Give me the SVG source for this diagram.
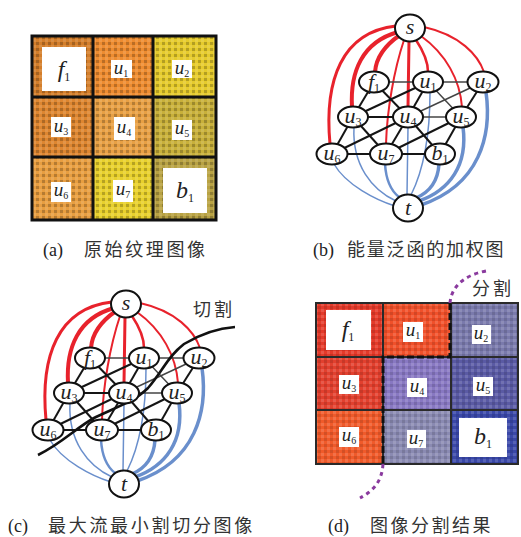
<svg xmlns="http://www.w3.org/2000/svg" width="521" height="537" viewBox="0 0 521 537">
<defs>
<pattern id="tex" width="6" height="6" patternUnits="userSpaceOnUse">
<rect x="0" y="0" width="3" height="3" fill="#000" fill-opacity="0.22"/>
<rect x="3" y="3" width="3" height="3" fill="#fff" fill-opacity="0.12"/>
</pattern>
<pattern id="tex2" width="6" height="6" patternUnits="userSpaceOnUse">
<rect x="0" y="0" width="3" height="3" fill="#000" fill-opacity="0.12"/>
<rect x="3" y="3" width="3" height="3" fill="#fff" fill-opacity="0.14"/>
</pattern>
<style>
.lbl{font-family:"Liberation Serif",serif;font-style:italic;font-size:22px;fill:#222;text-anchor:middle}
.sub{font-style:normal;font-size:12px}
.cap{font-family:"Liberation Serif",serif;font-size:18px;fill:#222}
.cjk{font-family:"Noto Sans CJK SC",sans-serif;font-size:18px;fill:#333}
.node{fill:#fff;stroke:#111;stroke-width:2}
.red{fill:none;stroke:#e8222c;stroke-linecap:round}
.blue{fill:none;stroke:#6a8fcc;stroke-linecap:round}
.nl{stroke:#151515;stroke-width:2}
.nlg{stroke:#444;stroke-width:1.5}
.wb{fill:#fff}
</style>
</defs>
<rect width="521" height="537" fill="#fff"/>

<!-- Panel (a) -->
<g id="panel-a">
<g id="a-cells">
<rect x="32" y="36" width="61" height="61" fill="#d47e2a"/>
<rect x="93" y="36" width="60" height="61" fill="#ee8c30"/>
<rect x="153" y="36" width="63" height="61" fill="#e6cb2c"/>
<rect x="32" y="97" width="61" height="60" fill="#de8630"/>
<rect x="93" y="97" width="60" height="60" fill="#e8a044"/>
<rect x="153" y="97" width="63" height="60" fill="#c8b03a"/>
<rect x="32" y="157" width="61" height="63" fill="#e89e40"/>
<rect x="93" y="157" width="60" height="63" fill="#e8d02c"/>
<rect x="153" y="157" width="63" height="63" fill="#b8a242"/>
<rect x="32" y="36" width="184" height="184" fill="url(#tex)"/>
</g>
<g id="a-grid" fill="none" stroke="#111" stroke-width="3">
<rect x="32" y="36" width="184" height="184"/>
<line x1="93" y1="36" x2="93" y2="220"/>
<line x1="153" y1="36" x2="153" y2="220"/>
<line x1="32" y1="97" x2="216" y2="97"/>
<line x1="32" y1="157" x2="216" y2="157"/>
</g>
<g id="a-f1"><rect class="wb" x="42" y="47" width="44" height="44"/><text class="lbl" x="64" y="77" style="font-size:24px">f<tspan class="sub" dy="4">1</tspan></text></g>
<g id="a-u1"><rect class="wb" x="111" y="60" width="21" height="18"/><text class="lbl" x="121" y="74" style="font-size:19px">u<tspan class="sub" style="font-size:10px" dy="3">1</tspan></text></g>
<g id="a-u2"><rect class="wb" x="172" y="60" width="20" height="18"/><text class="lbl" x="182" y="74" style="font-size:19px">u<tspan class="sub" style="font-size:10px" dy="3">2</tspan></text></g>
<g id="a-u3"><rect class="wb" x="51" y="117" width="20" height="20"/><text class="lbl" x="61" y="132" style="font-size:19px">u<tspan class="sub" style="font-size:10px" dy="3">3</tspan></text></g>
<g id="a-u4"><rect class="wb" x="114" y="117" width="21" height="23"/><text class="lbl" x="124" y="133" style="font-size:19px">u<tspan class="sub" style="font-size:10px" dy="3">4</tspan></text></g>
<g id="a-u5"><rect class="wb" x="172" y="120" width="20" height="20"/><text class="lbl" x="182" y="134" style="font-size:19px">u<tspan class="sub" style="font-size:10px" dy="3">5</tspan></text></g>
<g id="a-u6"><rect class="wb" x="51" y="182" width="20" height="20"/><text class="lbl" x="61" y="196" style="font-size:19px">u<tspan class="sub" style="font-size:10px" dy="3">6</tspan></text></g>
<g id="a-u7"><rect class="wb" x="113" y="180" width="20" height="22"/><text class="lbl" x="123" y="195" style="font-size:19px">u<tspan class="sub" style="font-size:10px" dy="3">7</tspan></text></g>
<g id="a-b1"><rect class="wb" x="163" y="168" width="44" height="45"/><text class="lbl" x="185" y="198" style="font-size:24px">b<tspan class="sub" dy="4">1</tspan></text></g>
</g>
<text class="cap" x="43" y="256">(a)</text>
<text class="cjk" x="84" y="256" letter-spacing="2.6">原始纹理图像</text>

<!-- Panel (b) -->
<g id="panel-b">
<g id="b-connectors">
<g id="b-red">
<path class="red" stroke-width="3" d="M396,26 C342,32 324,80 330,144"/>
<path class="red" stroke-width="4" d="M398,32 C362,42 350,72 352,107"/>
<path class="red" stroke-width="4" d="M400,35 C384,46 376,58 375,72"/>
<path class="red" stroke-width="2" d="M404,40 C394,70 387,110 386,144"/>
<path class="red" stroke-width="3" d="M409,41 L408,107"/>
<path class="red" stroke-width="2.5" d="M416,40 C424,52 428,62 428,72"/>
<path class="red" stroke-width="2" d="M421,36 C446,54 460,80 462,107"/>
<path class="red" stroke-width="2" d="M424,27 C460,35 478,55 484,72"/>
</g>
<g id="b-blue">
<path class="blue" stroke-width="1.5" d="M334,164 C346,185 376,200 395,206"/>
<path class="blue" stroke-width="1.5" d="M354,127 C352,165 372,190 396,201"/>
<path class="blue" stroke-width="2.5" d="M385,164 C386,180 390,190 399,197"/>
<path class="blue" stroke-width="1.5" d="M408,127 L407,195"/>
<path class="blue" stroke-width="1.5" d="M430,92 C430,130 426,165 411,195"/>
<path class="blue" stroke-width="3.5" d="M439,164 C438,180 430,192 416,198"/>
<path class="blue" stroke-width="3.5" d="M463,127 C468,165 450,190 419,201"/>
<path class="blue" stroke-width="3.5" d="M486,92 C492,135 480,185 421,205"/>
</g>
<g id="b-nlinks">
<line class="nlg" x1="374" y1="82" x2="428" y2="82"/>
<line class="nlg" x1="428" y1="82" x2="483" y2="82"/>
<line class="nl" x1="374" y1="82" x2="353" y2="117"/>
<line class="nl" x1="374" y1="82" x2="408" y2="117"/>
<line class="nl" x1="428" y1="82" x2="353" y2="117"/>
<line class="nl" x1="428" y1="82" x2="408" y2="117"/>
<line class="nlg" x1="428" y1="82" x2="461" y2="117"/>
<line class="nl" x1="483" y1="82" x2="461" y2="117"/>
<line class="nlg" stroke-width="1.2" x1="483" y1="82" x2="408" y2="117"/>
<line class="nl" stroke-width="2.5" x1="353" y1="117" x2="408" y2="117"/>
<line class="nlg" x1="408" y1="117" x2="461" y2="117"/>
<line class="nl" x1="353" y1="117" x2="332" y2="154"/>
<line class="nl" stroke-width="1.6" x1="353" y1="117" x2="386" y2="154"/>
<line class="nl" stroke-width="1.6" x1="408" y1="117" x2="386" y2="154"/>
<line class="nl" x1="408" y1="117" x2="440" y2="154"/>
<line class="nl" x1="461" y1="117" x2="440" y2="154"/>
<line class="nl" x1="461" y1="117" x2="386" y2="154"/>
<line class="nl" x1="408" y1="117" x2="332" y2="154"/>
<line class="nl" x1="332" y1="154" x2="386" y2="154"/>
<line class="nl" x1="386" y1="154" x2="440" y2="154"/>
</g>
</g>
<g id="b-s"><ellipse class="node" cx="410" cy="28" rx="15" ry="13.5"/><text class="lbl" x="410" y="34">s</text></g>
<g id="b-f1"><ellipse class="node" cx="374" cy="82" rx="15" ry="10.5"/><text class="lbl" x="374" y="89">f<tspan class="sub" dy="3">1</tspan></text></g>
<g id="b-u1"><ellipse class="node" cx="428" cy="82" rx="15" ry="10.5"/><text class="lbl" x="428" y="88">u<tspan class="sub" dy="3">1</tspan></text></g>
<g id="b-u2"><ellipse class="node" cx="483" cy="82" rx="15.5" ry="10.5"/><text class="lbl" x="483" y="88">u<tspan class="sub" dy="3">2</tspan></text></g>
<g id="b-u3"><ellipse class="node" cx="353" cy="117" rx="15" ry="10.5"/><text class="lbl" x="353" y="123">u<tspan class="sub" dy="3">3</tspan></text></g>
<g id="b-u4"><ellipse class="node" cx="408" cy="117" rx="15" ry="10.5"/><text class="lbl" x="408" y="123">u<tspan class="sub" dy="3">4</tspan></text></g>
<g id="b-u5"><ellipse class="node" cx="461" cy="117" rx="15" ry="10.5"/><text class="lbl" x="461" y="123">u<tspan class="sub" dy="3">5</tspan></text></g>
<g id="b-u6"><ellipse class="node" cx="332" cy="154" rx="15.5" ry="10.5"/><text class="lbl" x="332" y="160">u<tspan class="sub" dy="3">6</tspan></text></g>
<g id="b-u7"><ellipse class="node" cx="386" cy="154" rx="16" ry="10.5"/><text class="lbl" x="386" y="160">u<tspan class="sub" dy="3">7</tspan></text></g>
<g id="b-b1"><ellipse class="node" cx="440" cy="154" rx="15" ry="10.5"/><text class="lbl" x="440" y="160">b<tspan class="sub" dy="3">1</tspan></text></g>
<g id="b-t"><ellipse class="node" cx="408" cy="208" rx="15" ry="13.5"/><text class="lbl" x="408" y="215">t</text></g>
</g>
<text class="cap" x="313" y="256">(b)</text>
<text class="cjk" x="347" y="256" letter-spacing="1.8">能量泛函的加权图</text>

<!-- Panel (c) -->
<g id="panel-c" transform="translate(-284,276)">
<g id="c-connectors">
<g id="c-red">
<path class="red" stroke-width="3" d="M396,26 C342,32 324,80 330,144"/>
<path class="red" stroke-width="4" d="M398,32 C362,42 350,72 352,107"/>
<path class="red" stroke-width="4" d="M400,35 C384,46 376,58 375,72"/>
<path class="red" stroke-width="2" d="M404,40 C394,70 387,110 386,144"/>
<path class="red" stroke-width="3" d="M409,41 L408,107"/>
<path class="red" stroke-width="2.5" d="M416,40 C424,52 428,62 428,72"/>
<path class="red" stroke-width="2" d="M421,36 C446,54 460,80 462,107"/>
<path class="red" stroke-width="2" d="M424,27 C460,35 478,55 484,72"/>
</g>
<g id="c-blue">
<path class="blue" stroke-width="1.5" d="M334,164 C346,185 376,200 395,206"/>
<path class="blue" stroke-width="1.5" d="M354,127 C352,165 372,190 396,201"/>
<path class="blue" stroke-width="2.5" d="M385,164 C386,180 390,190 399,197"/>
<path class="blue" stroke-width="1.5" d="M408,127 L407,195"/>
<path class="blue" stroke-width="1.5" d="M430,92 C430,130 426,165 411,195"/>
<path class="blue" stroke-width="3.5" d="M439,164 C438,180 430,192 416,198"/>
<path class="blue" stroke-width="3.5" d="M463,127 C468,165 450,190 419,201"/>
<path class="blue" stroke-width="3.5" d="M486,92 C492,135 480,185 421,205"/>
</g>
<g id="c-nlinks">
<line class="nlg" x1="374" y1="82" x2="428" y2="82"/>
<line class="nlg" x1="428" y1="82" x2="483" y2="82"/>
<line class="nl" x1="374" y1="82" x2="353" y2="117"/>
<line class="nl" x1="374" y1="82" x2="408" y2="117"/>
<line class="nl" x1="428" y1="82" x2="353" y2="117"/>
<line class="nl" x1="428" y1="82" x2="408" y2="117"/>
<line class="nlg" x1="428" y1="82" x2="461" y2="117"/>
<line class="nl" x1="483" y1="82" x2="461" y2="117"/>
<line class="nlg" stroke-width="1.2" x1="483" y1="82" x2="408" y2="117"/>
<line class="nl" stroke-width="2.5" x1="353" y1="117" x2="408" y2="117"/>
<line class="nlg" x1="408" y1="117" x2="461" y2="117"/>
<line class="nl" x1="353" y1="117" x2="332" y2="154"/>
<line class="nl" stroke-width="1.6" x1="353" y1="117" x2="386" y2="154"/>
<line class="nl" stroke-width="1.6" x1="408" y1="117" x2="386" y2="154"/>
<line class="nl" x1="408" y1="117" x2="440" y2="154"/>
<line class="nl" x1="461" y1="117" x2="440" y2="154"/>
<line class="nl" x1="461" y1="117" x2="386" y2="154"/>
<line class="nl" x1="408" y1="117" x2="332" y2="154"/>
<line class="nl" x1="332" y1="154" x2="386" y2="154"/>
<line class="nl" x1="386" y1="154" x2="440" y2="154"/>
</g>
<path id="c-cut" fill="none" stroke="#111" stroke-width="2.6" d="M322,179 C345,168 360,152 378,142 C398,132 418,126 432,112 C446,96 452,80 468,68 C488,56 505,52 519,51"/>
</g>
<g id="c-s"><ellipse class="node" cx="410" cy="28" rx="15" ry="13.5"/><text class="lbl" x="410" y="34">s</text></g>
<g id="c-f1"><ellipse class="node" cx="374" cy="82" rx="15" ry="10.5"/><text class="lbl" x="374" y="89">f<tspan class="sub" dy="3">1</tspan></text></g>
<g id="c-u1"><ellipse class="node" cx="428" cy="82" rx="15" ry="10.5"/><text class="lbl" x="428" y="88">u<tspan class="sub" dy="3">1</tspan></text></g>
<g id="c-u2"><ellipse class="node" cx="483" cy="82" rx="15.5" ry="10.5"/><text class="lbl" x="483" y="88">u<tspan class="sub" dy="3">2</tspan></text></g>
<g id="c-u3"><ellipse class="node" cx="353" cy="117" rx="15" ry="10.5"/><text class="lbl" x="353" y="123">u<tspan class="sub" dy="3">3</tspan></text></g>
<g id="c-u4"><ellipse class="node" cx="408" cy="117" rx="15" ry="10.5"/><text class="lbl" x="408" y="123">u<tspan class="sub" dy="3">4</tspan></text></g>
<g id="c-u5"><ellipse class="node" cx="461" cy="117" rx="15" ry="10.5"/><text class="lbl" x="461" y="123">u<tspan class="sub" dy="3">5</tspan></text></g>
<g id="c-u6"><ellipse class="node" cx="332" cy="154" rx="15.5" ry="10.5"/><text class="lbl" x="332" y="160">u<tspan class="sub" dy="3">6</tspan></text></g>
<g id="c-u7"><ellipse class="node" cx="386" cy="154" rx="16" ry="10.5"/><text class="lbl" x="386" y="160">u<tspan class="sub" dy="3">7</tspan></text></g>
<g id="c-b1"><ellipse class="node" cx="440" cy="154" rx="15" ry="10.5"/><text class="lbl" x="440" y="160">b<tspan class="sub" dy="3">1</tspan></text></g>
<g id="c-t"><ellipse class="node" cx="408" cy="208" rx="15" ry="13.5"/><text class="lbl" x="408" y="215">t</text></g>
</g>
<text class="cjk" x="193" y="316" letter-spacing="3">切割</text>
<text class="cap" x="8" y="532">(c)</text>
<text class="cjk" x="48" y="532" letter-spacing="2.7">最大流最小割切分图像</text>

<!-- Panel (d) -->
<g id="panel-d">
<g id="d-cells">
<rect x="316" y="303" width="67" height="54" fill="#e43a2a"/>
<rect x="383" y="303" width="68" height="54" fill="#f0502a"/>
<rect x="451" y="303" width="67" height="54" fill="#7a7aac"/>
<rect x="316" y="357" width="67" height="53" fill="#e2402e"/>
<rect x="383" y="357" width="68" height="53" fill="#8878c2"/>
<rect x="451" y="357" width="67" height="53" fill="#5a5aa4"/>
<rect x="316" y="410" width="67" height="54" fill="#f05a2a"/>
<rect x="383" y="410" width="68" height="54" fill="#8a8ab2"/>
<rect x="451" y="410" width="67" height="54" fill="#3a48a8"/>
<rect x="316" y="303" width="202" height="161" fill="url(#tex2)"/>
</g>
<g id="d-grid" fill="none" stroke="#2a2a2a" stroke-width="2">
<rect x="316" y="303" width="202" height="161"/>
<line x1="383" y1="303" x2="383" y2="464"/>
<line x1="451" y1="303" x2="451" y2="464"/>
<line x1="316" y1="357" x2="518" y2="357"/>
<line x1="316" y1="410" x2="518" y2="410"/>
</g>
<g id="d-f1"><rect class="wb" x="326" y="310" width="45" height="40"/><text class="lbl" x="348" y="337" style="font-size:24px">f<tspan class="sub" dy="4">1</tspan></text></g>
<g id="d-u1"><rect class="wb" x="403" y="322" width="20" height="20"/><text class="lbl" x="413" y="336" style="font-size:19px">u<tspan class="sub" style="font-size:10px" dy="3">1</tspan></text></g>
<g id="d-u2"><rect class="wb" x="472" y="325" width="19" height="19"/><text class="lbl" x="481" y="339" style="font-size:19px">u<tspan class="sub" style="font-size:10px" dy="3">2</tspan></text></g>
<g id="d-u3"><rect class="wb" x="339" y="375" width="20" height="19"/><text class="lbl" x="349" y="389" style="font-size:19px">u<tspan class="sub" style="font-size:10px" dy="3">3</tspan></text></g>
<g id="d-u4"><rect class="wb" x="407" y="378" width="20" height="19"/><text class="lbl" x="417" y="392" style="font-size:19px">u<tspan class="sub" style="font-size:10px" dy="3">4</tspan></text></g>
<g id="d-u5"><rect class="wb" x="473" y="377" width="20" height="19"/><text class="lbl" x="483" y="391" style="font-size:19px">u<tspan class="sub" style="font-size:10px" dy="3">5</tspan></text></g>
<g id="d-u6"><rect class="wb" x="339" y="427" width="20" height="20"/><text class="lbl" x="349" y="441" style="font-size:19px">u<tspan class="sub" style="font-size:10px" dy="3">6</tspan></text></g>
<g id="d-u7"><rect class="wb" x="407" y="430" width="19" height="18"/><text class="lbl" x="416" y="444" style="font-size:19px">u<tspan class="sub" style="font-size:10px" dy="3">7</tspan></text></g>
<g id="d-b1"><rect class="wb" x="459" y="418" width="48" height="39"/><text class="lbl" x="483" y="444" style="font-size:24px">b<tspan class="sub" dy="4">1</tspan></text></g>
<path id="d-cut" fill="none" stroke="#111" stroke-width="3" stroke-dasharray="7,3" d="M450,303 L450,357 L383,357 L383,464"/>
<path id="d-dot-top" fill="none" stroke="#8a3a9e" stroke-width="3" stroke-dasharray="4,4" d="M450,303 C451,290 460,276 486,271"/>
<path id="d-dot-bottom" fill="none" stroke="#8a3a9e" stroke-width="3" stroke-dasharray="4,4" d="M383,464 C382,480 375,490 360,498"/>
</g>
<text class="cjk" x="472" y="295" letter-spacing="3">分割</text>
<text class="cap" x="328" y="532">(d)</text>
<text class="cjk" x="370" y="532" letter-spacing="2.5">图像分割结果</text>
</svg>
